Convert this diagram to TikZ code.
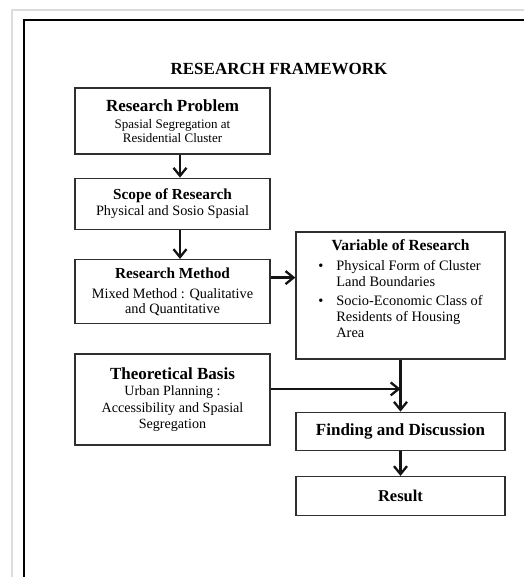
\documentclass[tikz,border=0pt]{standalone}
\usepackage{fontspec}
\setmainfont{Liberation Serif}
\usepackage{xcolor}
\definecolor{ink}{HTML}{141414}
\definecolor{edge}{HTML}{2F2F2F}
\definecolor{pagerule}{HTML}{DCDCDC}
\usetikzlibrary{positioning,arrows.meta,calc}
\newcommand{\hdBig}{\fontsize{17}{17}\selectfont\bfseries}
\newcommand{\hdMid}{\fontsize{15.3}{15.3}\selectfont\bfseries}
\tikzset{
  >={Straight Barb[length=8pt,width=13pt]},
  stage/.style={draw=edge,fill=white,line width=1.3pt,align=center,inner sep=3pt},
  colL/.style={stage,minimum width=195pt},
  colR/.style={stage,minimum width=209pt},
  flow/.style={->,draw=ink,line width=2.3pt},
}

\begin{document}
\begin{tikzpicture}[x=1pt,y=-1pt,node distance=23pt]
  \useasboundingbox (0,0) rectangle (524,577);
  \draw[pagerule,line width=2pt] (12,577) -- (12,10.5) -- (524,10.5);
  \draw[black,line width=2pt] (24,577) -- (24,20.5) -- (524,20.5);
  \node[font=\hdBig] (title) at (279,69) {RESEARCH FRAMEWORK};
  \node[colL,minimum height=66pt,font=\fontsize{13}{14.3}\selectfont] (prob) at (172.5,121) {{\hdBig Research Problem}\\[2.4pt]Spasial Segregation at\\Residential Cluster};
  \node[colL,minimum height=51pt,below=of prob,font=\fontsize{14.3}{15.7}\selectfont] (scope) {{\hdMid Scope of Research}\\Physical and Sosio Spasial};
  \node[colL,minimum height=64pt,below=29pt of scope,font=\fontsize{14.3}{15}\selectfont] (method) {{\hdMid Research Method}\\[5pt]Mixed Method : Qualitative\\and Quantitative};
  \node[colL,minimum height=91pt,below=29pt of method,font=\fontsize{14.1}{16.5}\selectfont] (theory) {{\hdBig Theoretical Basis}\\Urban Planning :\\Accessibility and Spasial\\Segregation};
  \node[colR,minimum height=127pt,font=\fontsize{14.4}{16}\selectfont] (var) at (400.5,295.5) {{\fontsize{15.5}{15.5}\selectfont\bfseries Variable of Research}\\[4pt]
    \begin{tabular}[t]{@{}l@{\hspace{13pt}}l@{}}
      \textbullet & Physical Form of Cluster\\
                  & Land Boundaries\\[2.3pt]
      \textbullet & Socio-Economic Class of\\
                  & Residents of Housing\\
                  & Area
    \end{tabular}\\[8pt]\mbox{}};
  \node[colR,minimum height=38pt,below=52pt of var,font=\hdBig] (find) {Finding and Discussion};
  \node[colR,minimum height=39pt,below=25pt of find,font=\fontsize{16.5}{16.5}\selectfont\bfseries] (res) {Result};
  \draw[flow] ([xshift=7.5pt]prob.south) -- ([xshift=7.5pt]scope.north);
  \draw[flow] ([xshift=7.5pt]scope.south) -- ([xshift=7.5pt]method.north);
  \coordinate (m1) at ([yshift=14pt]method.east);
  \draw[flow] (m1) -- (m1 -| var.west);
  \draw[flow] (var) -- (find);
  \coordinate (t1) at ([yshift=10.5pt]theory.east);
  \draw[flow] (t1) -- (t1 -| var.south);
  \draw[flow] (find) -- (res);
\end{tikzpicture}
\end{document}
